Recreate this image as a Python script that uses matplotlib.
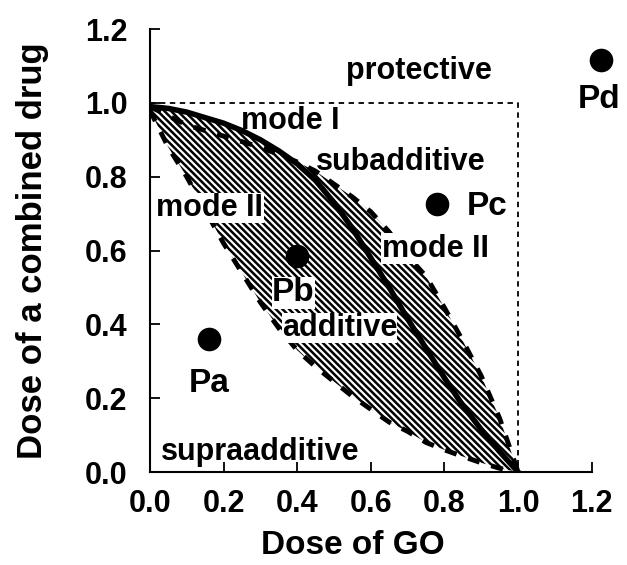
import matplotlib.pyplot as plt
import numpy as np

plt.rcParams['font.family'] = ['Liberation Sans', 'DejaVu Sans']
plt.rcParams['hatch.linewidth'] = 1.8

# isobologram curves
dose_go = [0.0, 0.05, 0.1, 0.15, 0.2, 0.25, 0.3, 0.35, 0.4, 0.45, 0.5,
           0.55, 0.6, 0.65, 0.7, 0.75, 0.8, 0.85, 0.9, 0.95, 1.0]
mode1 = [0.99, 0.985, 0.975, 0.96, 0.945, 0.925, 0.9, 0.87, 0.835, 0.79, 0.73,
         0.66, 0.58, 0.5, 0.415, 0.335, 0.255, 0.18, 0.115, 0.055, 0.0]
mode2_upper = [0.99, 0.965, 0.94, 0.925, 0.91, 0.895, 0.88, 0.86, 0.84, 0.815, 0.78,
               0.745, 0.705, 0.65, 0.585, 0.53, 0.445, 0.355, 0.26, 0.145, 0.0]
mode2_lower = [0.98, 0.88, 0.8, 0.71, 0.62, 0.54, 0.46, 0.39, 0.33, 0.285, 0.245,
               0.205, 0.17, 0.135, 0.11, 0.08, 0.06, 0.042, 0.025, 0.01, 0.0]

point_names = ['Pa', 'Pb', 'Pc', 'Pd']
point_x = [0.16, 0.40, 0.78, 1.225]
point_y = [0.36, 0.585, 0.725, 1.117]
name_pos = [(0.16, 0.24), (0.39, 0.485), (0.915, 0.72), (1.22, 1.01)]
name_boxed = [False, True, False, False]

regions = ['protective', 'mode I', 'subadditive', 'mode II', 'mode II',
           'additive', 'supraadditive']
region_pos = [(0.73, 1.085), (0.38, 0.95), (0.68, 0.84), (0.163, 0.715),
              (0.775, 0.605), (0.515, 0.39), (0.30, 0.055)]
region_boxed = [False, False, False, True, True, True, False]

ticks = [0.0, 0.2, 0.4, 0.6, 0.8, 1.0, 1.2]

fig = plt.figure(figsize=(6.27, 5.65), dpi=100)
ax = fig.add_axes([0.239, 0.1646, 0.74, 0.784])

x = np.array(dose_go)
upper = np.maximum(np.array(mode1), np.array(mode2_upper))
ax.fill_between(x, mode2_lower, upper, facecolor='none', edgecolor='black',
                hatch='\\' * 5, linewidth=0)

ax.plot(dose_go, mode1, color='black', lw=4)
ax.plot(dose_go, mode2_upper, color='black', lw=3.5, ls=(0, (2.5, 2.5)))
ax.plot(dose_go, mode2_lower, color='black', lw=3.5, ls=(0, (2.5, 2.5)))

ax.plot([0, 1, 1], [1, 1, 0], color='black', lw=1.3, ls=(0, (3, 2.5)))

ax.plot(point_x, point_y, 'o', color='black', ms=16, clip_on=False)
box = dict(facecolor='white', edgecolor='none', pad=0.3)
for name, (tx, ty), boxed in zip(point_names, name_pos, name_boxed):
    ax.text(tx, ty, name, fontsize=24, fontweight='bold', ha='center', va='center',
            bbox=box if boxed else None)

for label, (tx, ty), boxed in zip(regions, region_pos, region_boxed):
    ax.text(tx, ty, label, fontsize=22, fontweight='bold', ha='center', va='center',
            bbox=box if boxed else None)

ax.set_xlim(0, 1.26)
ax.set_ylim(0, 1.2)
ax.spines['top'].set_visible(False)
ax.spines['right'].set_visible(False)
ax.spines['bottom'].set_bounds(0, 1.2)
ax.spines['left'].set_linewidth(1.5)
ax.spines['bottom'].set_linewidth(1.5)
ax.set_xticks(ticks)
ax.set_yticks(ticks)
ax.set_xticklabels([f'{t:.1f}' for t in ticks], fontsize=22, fontweight='bold')
ax.set_yticklabels([f'{t:.1f}' for t in ticks], fontsize=22, fontweight='bold')
ax.tick_params(axis='x', direction='in', length=7, width=1.3, pad=12)
ax.tick_params(axis='y', direction='in', length=7, width=1.3, pad=16)
ax.set_xlabel('Dose of GO', fontsize=24, fontweight='bold')
ax.xaxis.set_label_coords(0.437, -0.13)
ax.set_ylabel('Dose of a combined drug', fontsize=25, fontweight='bold', labelpad=26)

fig.savefig('out.png', dpi=100)
